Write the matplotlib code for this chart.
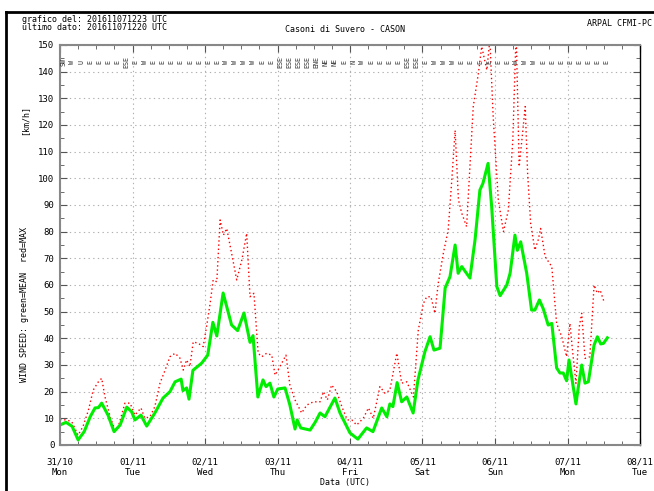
import matplotlib.pyplot as plt
from matplotlib.ticker import MultipleLocator
from matplotlib.lines import Line2D

# hours since 31/10/2016 00 UTC
mean_h = [0, 2, 4, 6, 8, 10, 11.6, 12.7, 13.8, 15.9, 17.9, 19.9, 22.1, 23.7, 24.8, 26.8,
          28.7, 31.4, 34.1, 36.4, 38.1, 40.1, 40.7, 41.9, 42.7, 44, 46.9, 48.9, 50.6, 51.9,
          54, 56.8, 58.8, 60.9, 62.9, 63.9, 65.5, 67.2, 68.2, 69.5, 70.8, 72.1, 74.5, 76.1,
          77.8, 78.5, 79.7, 82.8, 84.4, 86.1, 87.7, 91, 92.7, 96, 98.6, 101.5, 103.6, 106.5,
          108.2, 109.2, 110.2, 111.6, 113.1, 114.8, 116.9, 118.5, 120.8, 122.5, 123.8, 125.8,
          127.5, 129.1, 130.8, 131.8, 133, 135.7, 137.4, 139, 140, 141.7, 142.9, 144.6, 145.7,
          147.9, 149, 150.6, 151.4, 152.5, 154.5, 156.1, 157.2, 158.7, 160, 161.6, 162.8,
          164.4, 165.5, 166.6, 167.7, 168.5, 169.7, 170.8, 171.6, 172.7, 173.8, 174.9, 176.8,
          177.9, 179, 179.9, 181.2]
mean_v = [7.5, 8.5, 7, 1.9, 5, 10.6, 13.9, 14, 15.7, 11.2, 5, 7.5, 14.2, 12.5, 9.4, 11.2,
          7.1, 12, 17.6, 20, 23.7, 24.7, 20.4, 21.4, 17.2, 28, 30.7, 33.7, 46, 40.9,
          57, 45, 42.9, 49.5, 38.5, 41, 18, 24.4, 21.9, 23.2, 18, 21, 21.4, 15,
          6, 9.4, 6.4, 5.6, 8.4, 12, 10.6, 17.6, 12, 4.5, 2.2, 6.4, 5, 13.9,
          10.6, 15.4, 14.4, 23.4, 16.2, 18, 12, 24.4, 35, 40.6, 35.6, 36.3,
          58.9, 63.1, 75, 64.4, 66.9, 62.6, 77, 95.6, 98.1, 105.6, 89.4, 59.4, 56,
          60, 64.4, 78.7, 73, 76.2, 64.4, 50.6, 50.6, 54.4, 51, 45, 45.6,
          28.9, 27, 27, 24.1, 31.9, 23.2, 15.4, 21.9, 30, 23.2, 23.7, 37.5,
          40.6, 37.9, 38.1, 40.2]

max_h = [0, 2.2, 3.9, 6, 7.6, 9.4, 11, 12.7, 13.8, 14.9, 16.6, 18.2, 19.3, 21.5, 23.2, 24.8,
         26.8, 28.1, 29.8, 31.4, 33.1, 34.8, 36.4, 38.1, 39.7, 40.8, 41.9, 43, 44.1, 45.8,
         47.4, 48.6, 49.7, 50.7, 51.9, 53, 54.1, 55.2, 56.8, 58.5, 60.2, 61.8, 62.9, 64.2,
         65.6, 66.8, 68.4, 70.1, 71.2, 72.8, 74.8, 76.1, 77.8, 80, 81.7, 83.9, 86.1, 87.2,
         88.5, 89.9, 91.6, 93.3, 95.1, 96.6, 98.2, 100.4, 102.1, 103.7, 105.9, 107.6, 109.2,
         111.5, 113.1, 114.8, 117, 118.6, 120.3, 121.4, 122.8, 124.1, 125.2, 126.9, 128.5,
         129.7, 130.8, 131.9, 133, 134.6, 135.7, 136.8, 138.5, 139.6, 141.3, 142.3, 143.4,
         145.1, 146.8, 148.4, 149.9, 151, 152, 152.9, 154, 154.8, 155.8, 157.2, 158.3, 159.1,
         160.6, 162.8, 164.4, 166.1, 167.7, 168.8, 169.7, 170.8, 171.9, 172.7, 173.8, 175.4,
         176.8, 177.9, 178.8, 180.1]
max_v = [9.5, 9.4, 8.7, 3.7, 6.9, 13, 20.6, 23.7, 25, 18, 10.6, 5.6, 6.9, 15.7, 15.7, 11.2,
         13.9, 10, 10.6, 14.4, 23.2, 28.1, 33.1, 34.4, 32.6, 28.1, 31.9, 29.4, 38.7, 38.1,
         36.9, 45, 53.1, 61.9, 61.2, 84.4, 78.7, 81.2, 71.9, 61.9, 69.4, 79.4, 55.6, 56.9,
         34.4, 33.1, 34.4, 33.7, 26.2, 29.4, 33.7, 22.5, 16.9, 12, 15, 16.2, 16.2, 20,
         16.9, 22.5, 20, 14.4, 9.4, 9.4, 7.5, 10, 13.9, 10, 21.9, 19.4, 20.6,
         34.4, 23.2, 23.7, 18, 43, 53.1, 55.6, 55.6, 49.4, 60.6, 71.9, 80.6,
         99.4, 118, 91.9, 86.9, 81.9, 104.4, 126.9, 139.4, 149.4, 140.6, 152, 123,
         91.9, 80, 88, 114.4, 155, 104.4, 114.4, 126.9, 101.9, 83.1, 73.1, 76.9, 81.2,
         70.6, 66.9, 45.6, 40.6, 33.1, 45.6, 35, 23.1, 44.4, 49.4, 32.5, 33.1,
         60, 56.9, 58.1, 53.7]

day_labels = ['31/10\nMon', '01/11\nTue', '02/11\nWed', '03/11\nThu', '04/11\nFri',
              '05/11\nSat', '06/11\nSun', '07/11\nMon', '08/11\nTue']

# wind direction strings, one every 3 hours
dir_labels = ('SW W U E E E E ESE E W E E E E E E E E W W W W E E ESE ESE ESE ESE ENE '
              'NE NE E N W E E E E ESE ESE E W W W E E E E E E W W W E E E E E E E E').split()

plt.rcParams['font.family'] = ['DejaVu Sans Mono']
fig = plt.figure(figsize=(6.54, 4.91), dpi=100)
ax = fig.add_axes([60 / 654, 1 - 445 / 491, 580 / 654, 400 / 491])

ax.plot(max_h, max_v, color='red', lw=1.0, ls=(0, (1, 2)), clip_on=True)
ax.plot(mean_h, mean_v, color='#00ee00', lw=2.2, solid_joinstyle='round')

for i, s in enumerate(dir_labels):
    h = 1 + 3 * i
    if h > 181:
        break
    ax.text(h, 143.5, s, rotation=90, fontsize=4.8, ha='center', va='center', color='#333333')

ax.set_xlim(0, 192)
ax.set_ylim(0, 150)
ax.set_xticks(range(0, 193, 24))
ax.set_xticklabels(day_labels, fontsize=6, linespacing=1.25)
ax.xaxis.set_minor_locator(MultipleLocator(6))
ax.set_yticks(range(0, 151, 10))
ax.yaxis.set_minor_locator(MultipleLocator(5))
ax.tick_params(axis='both', which='both', direction='in', top=True, right=True,
               labelsize=6.5, color='#555555', pad=4)
ax.tick_params(axis='x', which='major', pad=9)
ax.tick_params(which='major', length=5)
ax.tick_params(which='minor', length=3)
ax.grid(True, which='major', color='#b0b0b0', ls=(0, (1.2, 3)), lw=0.8)
for sp in ax.spines.values():
    sp.set_color('#888888')
    sp.set_linewidth(1.5)
ax.spines['right'].set_color('black')
ax.spines['right'].set_linewidth(1.0)

fig.text(345 / 654, 1 - 483 / 491, 'Data (UTC)', fontsize=6, ha='center', va='center')

fig.text(22 / 654, 1 - 20 / 491, 'grafico del: 201611071223 UTC', fontsize=6, va='center')
fig.text(22 / 654, 1 - 28 / 491, 'ultimo dato: 201611071220 UTC', fontsize=6, va='center')
fig.text(345 / 654, 1 - 29 / 491, 'Casoni di Suvero - CASON', fontsize=6, ha='center', va='center')
fig.text(652 / 654, 1 - 24 / 491, 'ARPAL CFMI-PC', fontsize=6, ha='right', va='center')
fig.text(25 / 654, 1 - 305 / 491, 'WIND SPEED: green=MEAN  red=MAX', fontsize=6,
         rotation=90, ha='center', va='center')
fig.text(25 / 654, 1 - 120 / 491, '[km/h]', fontsize=6, rotation=90, ha='center', va='center')

# outer frame of the screenshot
fig.add_artist(Line2D([6 / 654, 1], [1 - 12 / 491] * 2, color='black', lw=2, transform=fig.transFigure))
fig.add_artist(Line2D([6 / 654] * 2, [0, 1 - 12 / 491], color='black', lw=2, transform=fig.transFigure))

fig.savefig('out.png', dpi=100)
